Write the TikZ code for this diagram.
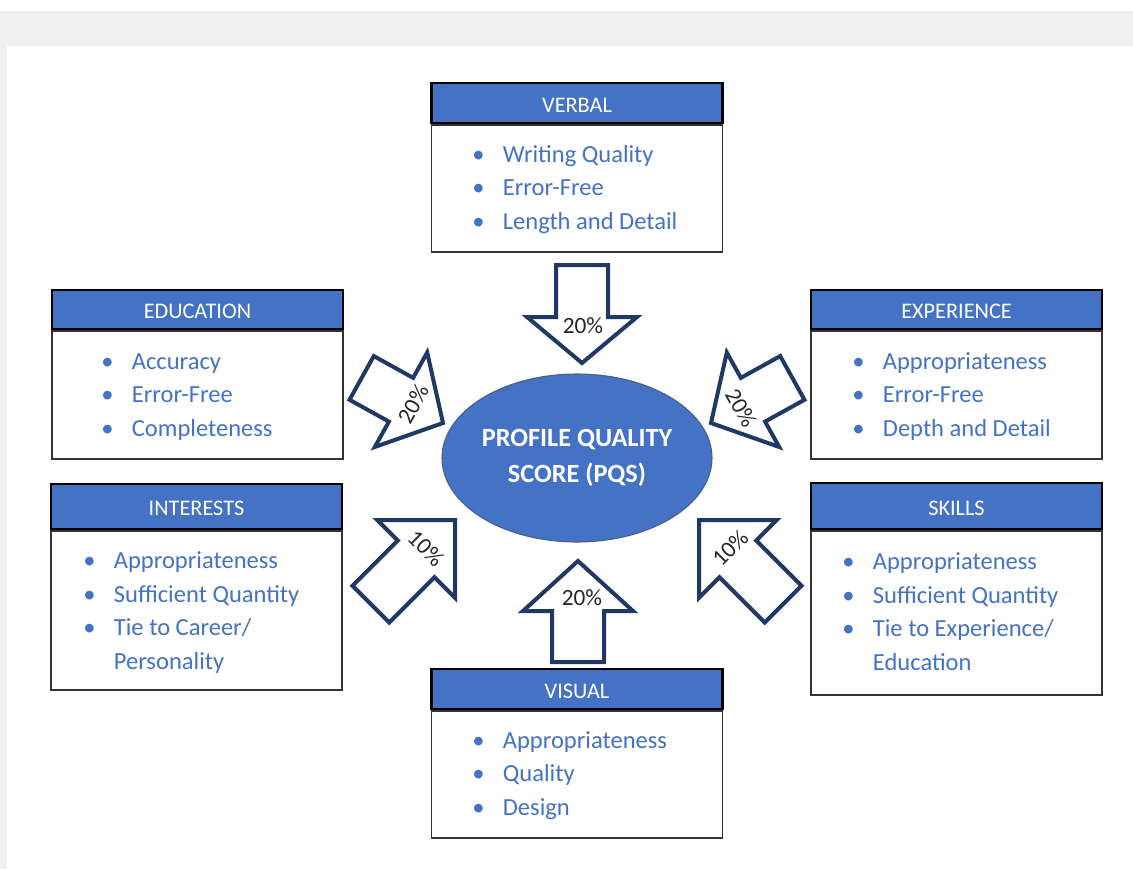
\documentclass[tikz,border=0pt]{standalone}
\usepackage{fontspec}
\setmainfont{Carlito}
\usepackage{xcolor}
\usetikzlibrary{shapes,arrows,positioning}

\definecolor{hdrblue}{RGB}{68,114,196}
\definecolor{navy}{RGB}{31,56,100}
\definecolor{pagegrey}{RGB}{240,240,240}

\tikzset{
  headbox/.style={draw=black, line width=1.8pt, fill=hdrblue, text=white, minimum width=218.25pt, inner sep=0pt, text height=13.7pt, text depth=0pt, font=\fontsize{16.7}{18}\selectfont},
  bodybox/.style={draw=black!80, line width=0.9pt, minimum width=218.25pt, inner sep=0pt},
  itemlist/.style={anchor=base west, inner sep=0pt, align=left, text=hdrblue, font=\fontsize{18.4}{25.1}\selectfont},
  pct/.style={text=black!85, inner sep=0pt, font=\fontsize{17.5}{18}\selectfont},
  bigarrow/.style={draw=navy, line width=3pt, fill=white, line join=miter}
}
\newcommand{\bul}{\makebox[23pt][l]{\textbullet}}

\begin{document}
\begin{tikzpicture}[x=0.75pt, y=-0.75pt]
\useasboundingbox (0,0) rectangle (1133,869);
\fill[white] (0,0) rectangle (1133,869);
\fill[pagegrey] (0,11) rectangle (1133,46);
\fill[pagegrey] (0,11) rectangle (7,869);

% centre
\node[ellipse, fill=hdrblue, draw=navy!80, line width=0.8pt, inner sep=0pt, minimum width=202.5pt, minimum height=126pt, text=white, align=center, font=\bfseries\fontsize{19.7}{27}\selectfont] (pqs) at (577,458) {PROFILE QUALITY\\SCORE (PQS)};

% boxes (anchor of a list = baseline of its last line)
\node[bodybox, minimum height=95.25pt] (verbalbody) at (577,188.5) {};
\node[headbox, minimum height=30pt, above=0pt of verbalbody] (verbal) {VERBAL};
\node[itemlist] (verballist) at (472,229) {\bul Writing Quality\\\bul Error-Free\\\bul Length and Detail};

\node[bodybox, minimum height=96pt] (educationbody) at (197.5,395) {};
\node[headbox, minimum height=29.25pt, above=0pt of educationbody] (education) {EDUCATION};
\node[itemlist] (educationlist) at (101,436) {\bul Accuracy\\\bul Error-Free\\\bul Completeness};

\node[bodybox, minimum height=96pt] (experiencebody) at (956.5,395) {};
\node[headbox, minimum height=29.25pt, above=0pt of experiencebody] (experience) {EXPERIENCE};
\node[itemlist] (experiencelist) at (852,436) {\bul Appropriateness\\\bul Error-Free\\\bul Depth and Detail};

\node[bodybox, minimum height=119.25pt] (interestsbody) at (196.5,610.5) {};
\node[headbox, minimum height=33.75pt, above=0pt of interestsbody] (interests) {INTERESTS};
\node[itemlist] (interestslist) at (83,669) {\bul Appropriateness\\\bul Sufficient Quantity\\\bul Tie to Career/\\\makebox[23pt]{}Personality};

\node[bodybox, minimum height=123pt] (skillsbody) at (956.5,613) {};
\node[headbox, minimum height=34.5pt, above=0pt of skillsbody] (skills) {SKILLS};
\node[itemlist] (skillslist) at (842,670) {\bul Appropriateness\\\bul Sufficient Quantity\\\bul Tie to Experience/\\\makebox[23pt]{}Education};

\node[bodybox, minimum height=95.25pt] (visualbody) at (577,774.5) {};
\node[headbox, minimum height=30pt, above=0pt of visualbody] (visual) {VISUAL};
\node[itemlist] (visuallist) at (472,815) {\bul Appropriateness\\\bul Quality\\\bul Design};

% block arrows, tip at the origin, pointing down before rotation
\begin{scope}[shift={(582,363)}]
\draw[bigarrow] (-26,-98) -- (26,-98) -- (26,-46) -- (55,-46) -- (0,0) -- (-55,-46) -- (-26,-46) -- cycle;
\end{scope}
\begin{scope}[shift={(443,423)}, rotate=61]
\draw[bigarrow] (-25,-93) -- (25,-93) -- (25,-48) -- (54,-48) -- (0,0) -- (-54,-48) -- (-25,-48) -- cycle;
\end{scope}
\begin{scope}[shift={(711,423)}, rotate=-61]
\draw[bigarrow] (-25,-93) -- (25,-93) -- (25,-48) -- (54,-48) -- (0,0) -- (-54,-48) -- (-25,-48) -- cycle;
\end{scope}
\begin{scope}[shift={(455,520)}, rotate=135]
\draw[bigarrow] (-26,-119) -- (26,-119) -- (26,-55) -- (55,-55) -- (0,0) -- (-55,-55) -- (-26,-55) -- cycle;
\end{scope}
\begin{scope}[shift={(699,520)}, rotate=225]
\draw[bigarrow] (-26,-119) -- (26,-119) -- (26,-55) -- (55,-55) -- (0,0) -- (-55,-55) -- (-26,-55) -- cycle;
\end{scope}
\begin{scope}[shift={(578,561)}, rotate=180]
\draw[bigarrow] (-26,-101) -- (26,-101) -- (26,-50) -- (55,-50) -- (0,0) -- (-55,-50) -- (-26,-50) -- cycle;
\end{scope}

% weights
\node[pct] (wverbal) at (583,326) {20\%};
\node[pct, rotate=61] (weducation) at (413,404) {20\%};
\node[pct, rotate=-61] (wexperience) at (741,408) {20\%};
\node[pct, rotate=-45] (winterests) at (426,548) {10\%};
\node[pct, rotate=45] (wskills) at (730,548) {10\%};
\node[pct] (wvisual) at (582,598) {20\%};

\end{tikzpicture}
\end{document}
